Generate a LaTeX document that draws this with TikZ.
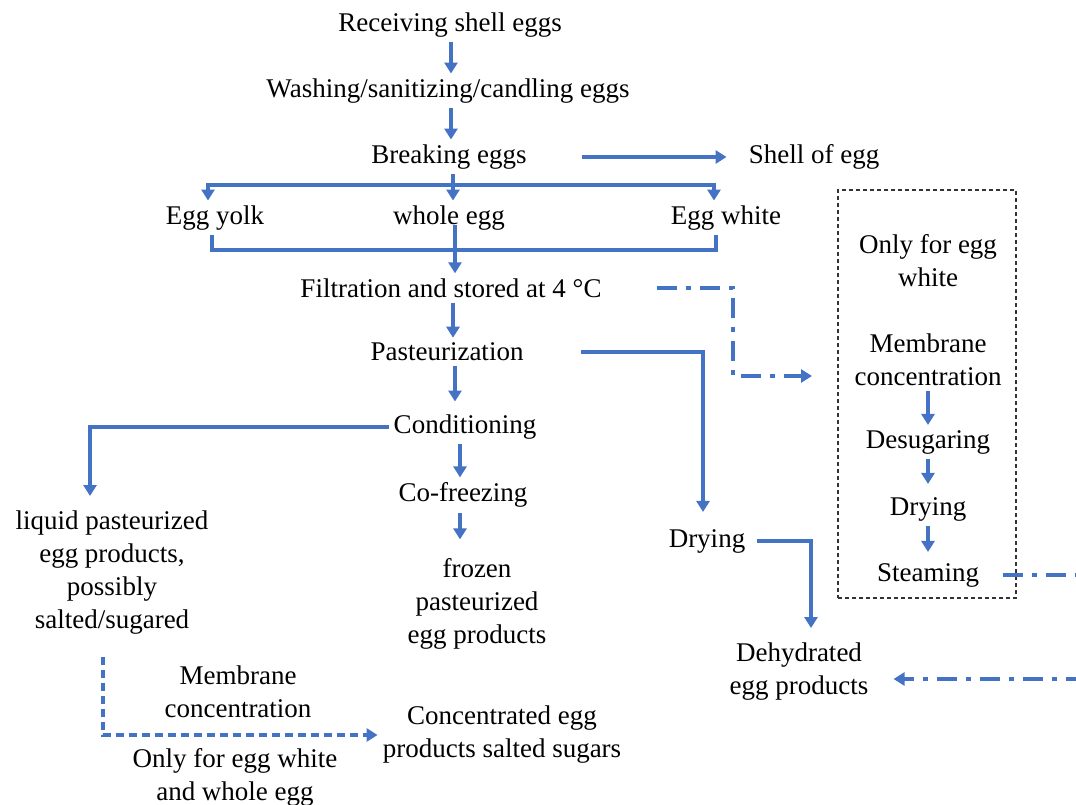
\documentclass[tikz,border=0pt]{standalone}
\usepackage{fontspec}
\setmainfont{Liberation Serif}
\usetikzlibrary{arrows.meta}
\definecolor{flowblue}{HTML}{4472C4}
\tikzset{
  txt/.style={inner sep=5pt, align=center},
  link/.style={line width=3.5pt, draw=flowblue},
  flow/.style={link, -{Triangle[length=11pt,width=13pt]}},
  optflow/.style={flow, dash pattern=on 8pt off 5pt},
  sideflow/.style={flow, dash pattern=on 20pt off 9pt on 5pt off 9pt},
  optbox/.style={draw=black!80, line width=1.2pt, dash pattern=on 4pt off 3pt}
}

\begin{document}
\begin{tikzpicture}[x=1pt, y=-1pt, font=\fontsize{27}{33}\selectfont]
  \useasboundingbox (0,0) rectangle (1076,805);

  % main process line
  \node[txt] (receive) at (450,25) {Receiving shell eggs};
  \node[txt] (wash) at (448,91) {Washing/sanitizing/candling eggs};
  \node[txt] (break) at (449,157) {Breaking eggs};
  \node[txt] (shell) at (814,157) {Shell of egg};
  \node[txt] (yolk) at (215,218) {Egg yolk};
  \node[txt] (whole) at (449,218) {whole egg};
  \node[txt] (white) at (726,218) {Egg white};
  \node[txt] (filtr) at (451,288) {Filtration and stored at 4 °C};
  \node[txt] (past) at (447,352) {Pasteurization};
  \node[txt] (cond) at (465,427) {Conditioning};
  \node[txt] (cofreeze) at (463,495) {Co-freezing};
  \node[txt] (frozen) at (477,604) {frozen\\pasteurized\\egg products};
  \node[txt] (liquid) at (112,573) {liquid pasteurized\\egg products,\\possibly\\salted/sugared};
  \node[txt] (drying) at (707,541) {Drying};
  \node[txt] (dehyd) at (799,672) {Dehydrated\\egg products};
  \node[txt] (membnote) at (238,692) {Membrane\\concentration};
  \node[txt] (onlynote) at (235,777) {Only for egg white\\and whole egg};
  \node[txt] (conc) at (502,735) {Concentrated egg\\products salted sugars};

  % egg white only
  \node[optbox, minimum width=178pt, minimum height=408pt] (onlybox) at (927,394) {};
  \node[txt] (onlywhite) at (928,261) {Only for egg\\white};
  \node[txt] (memb) at (928,360) {Membrane\\concentration};
  \node[txt] (desug) at (928,442) {Desugaring};
  \node[txt] (dry2) at (928,509) {Drying};
  \node[txt] (steam) at (928,575) {Steaming};

  \coordinate (split) at (453,185);
  \coordinate (merge) at (455,250);
  \coordinate (boxin) at (812,376);

  \draw[flow] ([xshift=1pt]receive.south) -- ([xshift=1pt]receive.south |- wash.north);
  \draw[flow] ([xshift=3pt]wash.south) -- ([xshift=3pt]wash.south |- break.north);
  \draw[flow, shorten <=50pt, shorten >=17pt] (break.east) -- (shell.west);
  \draw[flow] ([xshift=4pt]break.south) -- ([xshift=4pt]break.south |- whole.north);
  \draw[flow] (split) -| ([xshift=-7pt]yolk.north);
  \draw[flow] (split) -| ([xshift=-12pt]white.north);
  \draw[link] ([xshift=-3pt]yolk.south) |- (merge) -| ([xshift=-10pt]white.south);
  \draw[flow] ([xshift=6pt,yshift=-7pt]whole.center) -- ([xshift=6pt]whole.center |- filtr.north);
  \draw[flow] ([xshift=2pt]filtr.south) -- ([xshift=2pt]filtr.south |- past.north);
  \draw[flow, shorten >=8pt] ([xshift=8pt]past.south) -- ([xshift=8pt]past.south |- cond.north);
  \draw[flow] ([xshift=-5pt]cond.south) -- ([xshift=-5pt]cond.south |- cofreeze.north);
  \draw[flow, shorten >=14pt] ([xshift=-3pt]cofreeze.south) -- ([xshift=-3pt]cofreeze.south |- frozen.north);
  \draw[flow, shorten <=52pt, shorten >=12pt] (past.east) -| ([xshift=-4pt]drying.north);
  \draw[flow, shorten >=10pt] (cond.west) -| ([xshift=-22pt]liquid.north);
  \draw[flow, shorten <=7pt, shorten >=10pt] (drying.east) -| ([xshift=12pt]dehyd.north);
  \draw[optflow, shorten <=17pt] ([xshift=-9pt]liquid.south) |- (conc.west);

  \draw[flow] (memb.south) -- (desug.north);
  \draw[flow, shorten >=8pt] (desug.south) -- (dry2.north);
  \draw[flow, shorten >=6pt] (dry2.south) -- (steam.north);

  \draw[sideflow, shorten <=50pt] (filtr.east) -- (733,288) |- (boxin);
  \draw[sideflow, shorten <=19pt, shorten >=20pt] (steam.east) -- (1100,575) |- ([yshift=-7pt]dehyd.east);
\end{tikzpicture}
\end{document}
